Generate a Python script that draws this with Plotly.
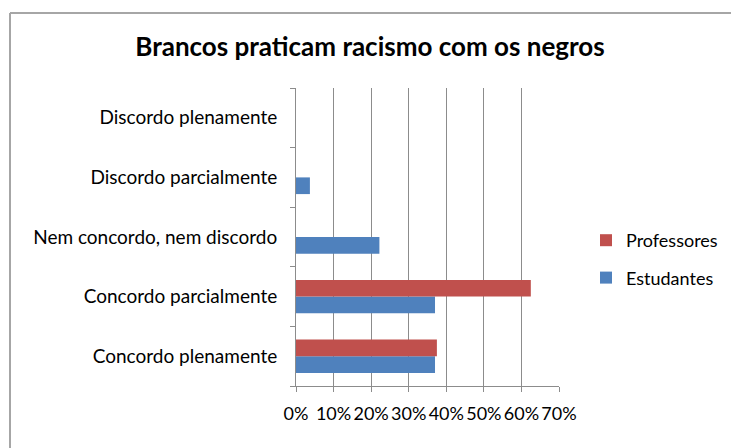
import plotly.graph_objects as go

# Response categories, bottom to top
categorias = [
    "Concordo plenamente",
    "Concordo parcialmente",
    "Nem concordo, nem discordo",
    "Discordo parcialmente",
    "Discordo plenamente",
]
estudantes = [0.37, 0.37, 0.222, 0.037, 0.0]
professores = [0.375, 0.625, 0.0, 0.0, 0.0]

AZUL = "#4F81BD"
VERMELHO = "#C0504D"
CINZA = "#8C8C8C"
FONTE = "Lato, 'Open Sans', sans-serif"

W, H = 731, 448
L, R, T, B = 296, 172, 88, 62
pw, ph = W - L - R, H - T - B


def px_x(p):
    return (p - L) / pw


def px_y(p):
    return (H - B - p) / ph


fig = go.Figure()
fig.add_trace(go.Bar(y=categorias, x=estudantes, orientation="h", name="Estudantes",
                     legendgroup="est", legendrank=2,
                     marker=dict(color=AZUL, line=dict(width=0))))
fig.add_trace(go.Bar(y=categorias, x=professores, orientation="h", name="Professores",
                     legendgroup="prof", legendrank=1,
                     marker=dict(color=VERMELHO, line=dict(width=0))))

# outer chart frame: only the top and left edges fall inside the page
frame = dict(type="line", xref="paper", yref="paper",
             line=dict(color="#A6A6A6", width=2), layer="below")
fig.add_shape(x0=px_x(10), x1=px_x(W), y0=px_y(13), y1=px_y(13), **frame)
fig.add_shape(x0=px_x(10), x1=px_x(10), y0=px_y(13), y1=px_y(H), **frame)

fig.update_layout(
    width=W, height=H,
    margin=dict(l=L, r=R, t=T, b=B, autoexpand=False),
    paper_bgcolor="white", plot_bgcolor="white",
    barmode="group", bargap=0.44, bargroupgap=0,
    title=dict(text="<b>Brancos praticam racismo com os negros</b>",
               x=370 / W, xanchor="center", y=1 - 47 / H, yanchor="middle",
               font=dict(family=FONTE, size=26, color="black")),
    font=dict(family=FONTE, size=18, color="black"),
    xaxis=dict(range=[0, 0.7], dtick=0.1, tickformat=".0%",
               showgrid=True, gridcolor=CINZA, gridwidth=1,
               showline=True, linecolor=CINZA, linewidth=1,
               ticks="outside", ticklen=5, tickcolor=CINZA,
               zeroline=False, fixedrange=True, ticklabelstandoff=6,
               tickfont=dict(size=18)),
    yaxis=dict(showline=True, linecolor=CINZA, linewidth=1,
               ticks="outside", ticklen=5, tickcolor=CINZA, tickson="boundaries",
               showgrid=False, ticklabelstandoff=14,
               tickfont=dict(size=19)),
    legend=dict(xref="container", yref="container",
                x=586 / W, xanchor="left", y=1 - 222 / H, yanchor="top",
                traceorder="grouped", font=dict(size=18),
                itemwidth=30, tracegroupgap=11, bgcolor="rgba(0,0,0,0)"),
)

fig.write_html("out.html", config={"displayModeBar": False})
